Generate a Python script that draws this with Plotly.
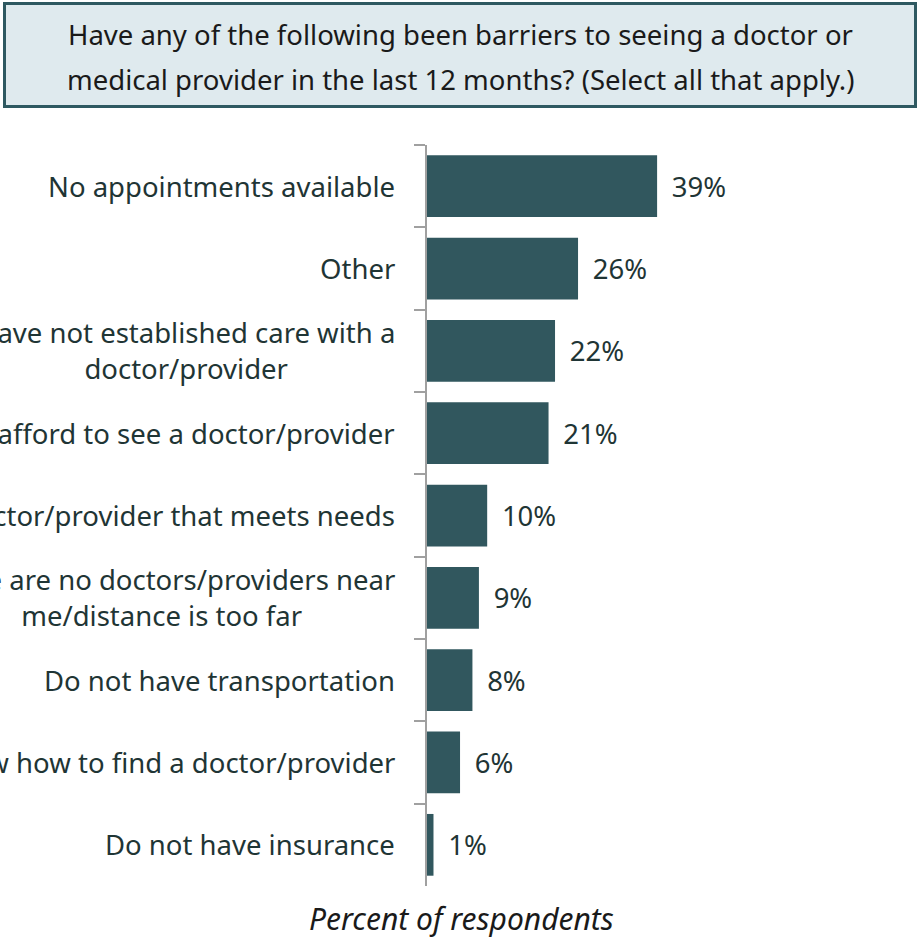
import plotly.graph_objects as go

categories = [
    "No appointments available",
    "Other",
    "Have not established care with a<br>doctor/provider",
    "Cannot afford to see a doctor/provider",
    "Cannot find a doctor/provider that meets needs",
    "There are no doctors/providers near<br>me/distance is too far",
    "Do not have transportation",
    "Do not know how to find a doctor/provider",
    "Do not have insurance",
]
values = [39.0, 25.6, 21.7, 20.6, 10.2, 8.8, 7.7, 5.6, 1.1]
title_lines = [
    "Have any of the following been barriers to seeing a doctor or",
    "medical provider in the last 12 months? (Select all that apply.)",
]
axis_title = "Percent of respondents"

FONT = "Noto Sans"
BAR = "#31575e"
TXT = "#1f3535"
BLACK = "#1a1a1a"
W, H = 918, 938
L, R, T, B = 427, 19, 145, 52
pw = W - L - R
ph = H - T - B


def pxx(px):
    return (px - L) / pw


def pxy(py):
    return (H - B - py) / ph


fig = go.Figure(
    go.Bar(
        x=values,
        y=categories,
        orientation="h",
        marker=dict(color=BAR, line_width=0),
        width=0.75,
        texttemplate="\u00a0\u2009%{x:.0f}%",
        textposition="outside",
        textfont=dict(family=FONT, size=27.5, color=TXT),
        cliponaxis=False,
        hoverinfo="skip",
    )
)

annotations = []
LBL_SIZE = 27.5
LBL_X = pxx(397)
for cat in categories:
    annotations.append(dict(
        x=LBL_X, xref="paper", y=cat, yref="y", xanchor="right",
        yanchor="middle", align="center", showarrow=False,
        text=cat, font=dict(family=FONT, size=LBL_SIZE, color=TXT)))

for line, py in zip(title_lines, [35, 80]):
    annotations.append(dict(
        x=pxx(460), xref="paper", y=pxy(py), yref="paper", xanchor="center",
        yanchor="middle", showarrow=False, text=line,
        font=dict(family=FONT, size=27.5, color=BLACK)))

annotations.append(dict(
    x=pxx(461), xref="paper", y=pxy(918), yref="paper", xanchor="center",
    yanchor="middle", showarrow=False, text=axis_title,
    font=dict(family=FONT, size=30, color=BLACK, style="italic")))

fig.update_layout(
    width=W, height=H,
    margin=dict(l=L, r=R, t=T, b=B, pad=0),
    paper_bgcolor="white", plot_bgcolor="white",
    showlegend=False,
    bargap=0.25,
    xaxis=dict(range=[0, 80], visible=False, fixedrange=True),
    yaxis=dict(
        type="category", range=[8.5, -0.5], showticklabels=False,
        showline=True, linecolor="#a0a0a0", linewidth=2,
        ticks="outside", tickson="boundaries", ticklen=11,
        tickcolor="#a0a0a0", tickwidth=2, showgrid=False, zeroline=False,
        fixedrange=True,
    ),
    shapes=[dict(
        type="rect", xref="paper", yref="paper",
        x0=pxx(4.5), x1=pxx(915.5), y0=pxy(3.5), y1=pxy(106.5),
        fillcolor="#dfeaee", line=dict(color="#2e5961", width=3), layer="below",
    )],
    annotations=annotations,
)

fig.write_html(
    "out.html",
    config={"displayModeBar": False},
    post_script="document.body.style.margin='0';document.body.style.overflow='hidden';",
)
